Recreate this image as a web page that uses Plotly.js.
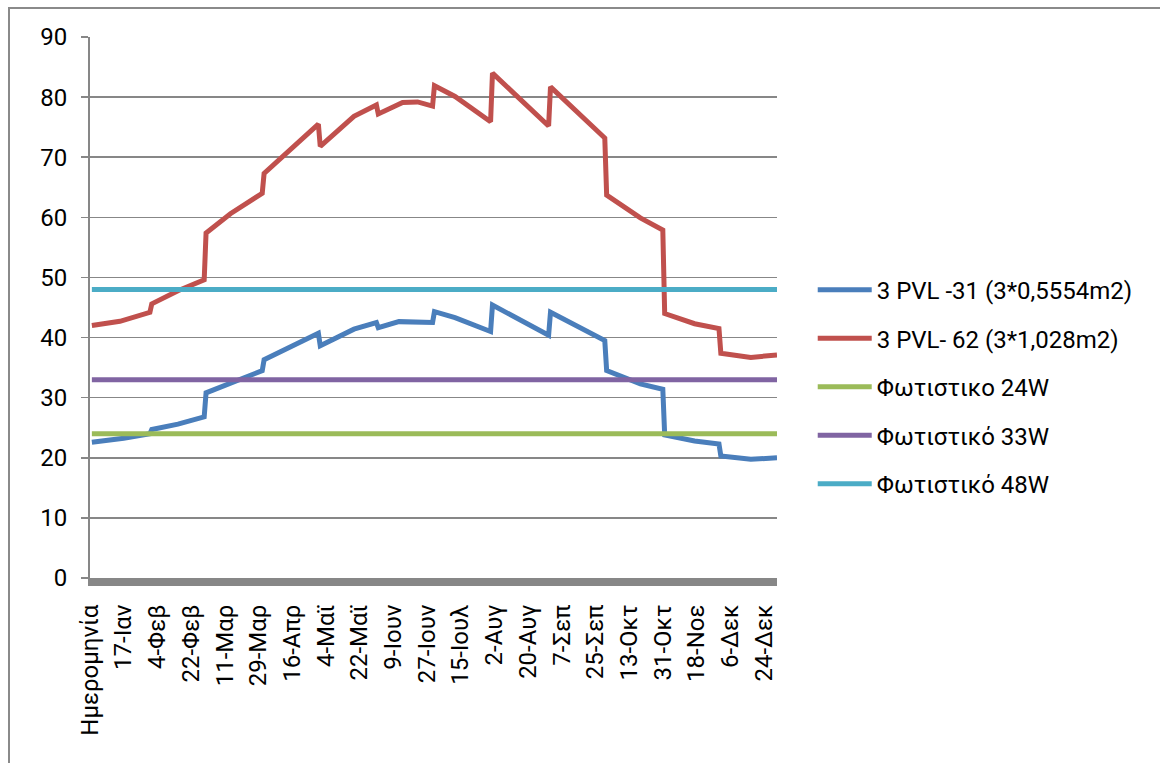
<!DOCTYPE html>
<html>
<head>
<meta charset="utf-8">
<script src="https://cdn.plot.ly/plotly-3.0.1.min.js"></script>
<style>
  html, body { margin: 0; padding: 0; background: #ffffff; }
  #wrap { position: relative; width: 1160px; height: 763px; overflow: hidden; }
  #chart { position: absolute; left: 0; top: 0; width: 1160px; height: 763px; }
  #frame { position: absolute; left: 8px; top: 7px; width: 1200px; height: 800px;
           border-left: 2px solid #8a8a8a; border-top: 2px solid #8a8a8a; pointer-events: none; }
</style>
</head>
<body>
<div id="wrap">
  <div id="chart"></div>
  <div id="frame"></div>
</div>
<script>
// Category axis: index 0 is the header "Ημερομηνία", then one category per day.
const tickIndex = [0, 18, 36, 54, 72, 90, 108, 126, 144, 162, 180, 198, 216, 234, 252, 270, 288, 306, 324, 342, 360];
const tickLabels = ["Ημερομηνία", "17-Ιαν", "4-Φεβ", "22-Φεβ", "11-Μαρ", "29-Μαρ", "16-Απρ", "4-Μαϊ", "22-Μαϊ",
  "9-Ιουν", "27-Ιουν", "15-Ιουλ", "2-Αυγ", "20-Αυγ", "7-Σεπ", "25-Σεπ", "13-Οκτ", "31-Οκτ", "18-Νοε", "6-Δεκ", "24-Δεκ"];

// 3 PVL-31 (3*0,5554m2): day index and value
const pvl31Day   = [1, 18, 32, 33, 47, 61, 62, 75, 92, 93, 122, 123, 141, 153, 154, 165, 183, 184, 195, 214, 215, 245, 246, 275, 276, 294, 306, 307, 323, 336, 337, 353, 367];
const pvl31Value = [22.6, 23.25, 24.0, 24.7, 25.6, 26.8, 30.8, 32.4, 34.5, 36.3, 40.7, 38.65, 41.4, 42.5, 41.65, 42.65, 42.5, 44.3, 43.3, 41.0, 45.4, 40.4, 44.2, 39.5, 34.5, 32.3, 31.4, 23.8, 22.8, 22.3, 20.3, 19.75, 20.0];

// 3 PVL-62 (3*1,028m2)
const pvl62Day   = [1, 16, 32, 33, 47, 61, 62, 75, 92, 93, 122, 123, 141, 153, 154, 167, 175, 183, 184, 195, 214, 215, 245, 246, 275, 276, 294, 306, 307, 323, 336, 337, 353, 367];
const pvl62Value = [42.0, 42.7, 44.2, 45.6, 47.8, 49.6, 57.4, 60.6, 64.0, 67.3, 75.5, 71.8, 76.8, 78.7, 77.2, 79.1, 79.2, 78.5, 81.9, 80.1, 75.9, 84.0, 75.2, 81.7, 73.2, 63.7, 59.9, 57.9, 44.0, 42.3, 41.5, 37.4, 36.7, 37.1];

// Lamp consumption levels (constant over the year)
const lampDay = [1, 367];
const lamp24 = [24, 24];
const lamp33 = [33, 33];
const lamp48 = [48, 48];

const seriesNames = ["3 PVL -31 (3*0,5554m2)", "3 PVL- 62 (3*1,028m2)", "Φωτιστικο 24W", "Φωτιστικό 33W", "Φωτιστικό 48W"];
const seriesColors = ["#4a7ebb", "#c0504d", "#9bbb59", "#8064a2", "#4bacc6"];

const FONT = "Roboto, 'Noto Sans', sans-serif";
const LW = 5;

function line(x, y, i) {
  return {
    type: "scatter", mode: "lines", x: x, y: y, name: seriesNames[i],
    legendgroup: "g" + i,
    line: { color: seriesColors[i], width: LW, shape: "linear" },
    hoverinfo: "x+y+name"
  };
}

const data = [
  line(pvl31Day, pvl31Value, 0),
  line(pvl62Day, pvl62Value, 1),
  line(lampDay, lamp24, 2),
  line(lampDay, lamp33, 3),
  line(lampDay, lamp48, 4)
];

const layout = {
  width: 1160, height: 763,
  margin: { l: 90, r: 383, t: 37, b: 185, pad: 0 },
  paper_bgcolor: "#ffffff", plot_bgcolor: "#ffffff",
  font: { family: FONT, size: 24, color: "#000000" },
  showlegend: true,
  legend: {
    x: 1.052, xanchor: "left", y: 0.5737, yanchor: "top",
    font: { family: FONT, size: 24, color: "#000000" },
    traceorder: "grouped", tracegroupgap: 14.3, itemwidth: 54,
    bgcolor: "rgba(0,0,0,0)", borderwidth: 0
  },
  xaxis: {
    range: [0, 367], tickmode: "array", tickvals: tickIndex, ticktext: tickLabels,
    tickangle: -90, showgrid: false, zeroline: false,
    showline: true, linecolor: "#878787", linewidth: 8,
    ticks: "", tickfont: { family: FONT, size: 24, color: "#000000" },
    ticklabelstandoff: 9,
    fixedrange: true
  },
  yaxis: {
    range: [0, 90], tickmode: "linear", tick0: 0, dtick: 10,
    showgrid: true, gridcolor: "#878787", gridwidth: 1.5, zeroline: false,
    showline: true, linecolor: "#878787", linewidth: 2,
    ticks: "outside", ticklen: 7, tickwidth: 1.5, tickcolor: "#878787",
    tickfont: { family: FONT, size: 24, color: "#000000" },
    ticklabelstandoff: 9,
    fixedrange: true
  }
};

Plotly.newPlot("chart", data, layout, { displayModeBar: false, staticPlot: true });
</script>
</body>
</html>
